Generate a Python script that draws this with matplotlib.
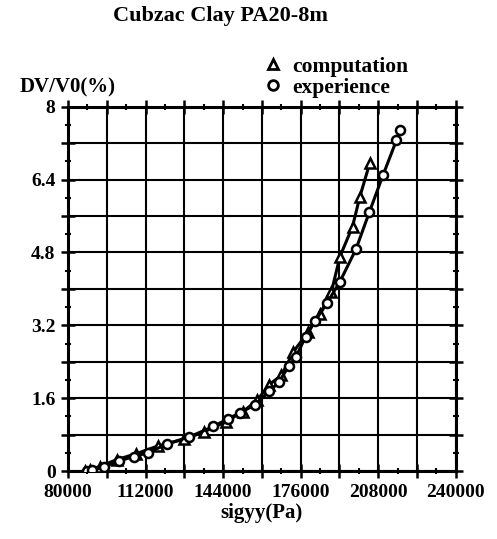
import numpy as np
import matplotlib.pyplot as plt
from matplotlib.lines import Line2D
from matplotlib.ticker import MultipleLocator, FuncFormatter

# values
comp_x = [87000, 89000, 93000, 100000, 108000, 117000, 128000, 136000, 145000,
          152000, 158000, 163000, 168000, 173000, 179000, 184000, 188700,
          192200, 197400, 200400, 204500]
comp_y = [0.0, 0.03, 0.10, 0.25, 0.38, 0.55, 0.70, 0.86, 1.08, 1.30, 1.55,
          1.90, 2.10, 2.62, 3.05, 3.45, 3.94, 4.71, 5.37, 6.02, 6.76]

exp_x = [88000, 90000, 95000, 101000, 107000, 113000, 121000, 130000, 140000,
         146000, 151000, 157000, 163000, 167000, 171000, 174000, 178000,
         182000, 187000, 192200, 198800, 204300, 210000, 215500, 216900]
exp_y = [0.0, 0.02, 0.10, 0.22, 0.32, 0.40, 0.60, 0.75, 0.98, 1.15, 1.28,
         1.45, 1.75, 1.95, 2.30, 2.50, 2.95, 3.30, 3.70, 4.16, 4.87, 5.68,
         6.50, 7.26, 7.48]

x_labels = [80000, 112000, 144000, 176000, 208000, 240000]
y_labels = [0, 1.6, 3.2, 4.8, 6.4, 8]

plt.rcParams['font.family'] = ['Liberation Serif', 'DejaVu Serif']
plt.rcParams['font.weight'] = 'bold'

fig = plt.figure(figsize=(4.97, 5.39), dpi=100)
ax = fig.add_axes([0.137, 0.126, 0.780, 0.676])

ax.plot(comp_x, comp_y, color='black', lw=2.2, marker='^', ms=6.5,
        mfc='white', mec='black', mew=1.8, zorder=3)
ax.plot(exp_x, exp_y, color='black', lw=2.2, marker='o', ms=6.5,
        mfc='white', mec='black', mew=1.8, zorder=3)

ax.set_xlim(80000, 240000)
ax.set_ylim(0, 8)

ax.xaxis.set_major_locator(MultipleLocator(16000))
ax.xaxis.set_minor_locator(MultipleLocator(8000))
ax.yaxis.set_major_locator(MultipleLocator(0.8))
ax.yaxis.set_minor_locator(MultipleLocator(0.4))

def xfmt(v, pos):
    for lab in x_labels:
        if abs(v - lab) < 1:
            return '%d' % lab
    return ''

def yfmt(v, pos):
    for lab in y_labels:
        if abs(v - lab) < 1e-6:
            return '%g' % lab
    return ''

ax.xaxis.set_major_formatter(FuncFormatter(xfmt))
ax.yaxis.set_major_formatter(FuncFormatter(yfmt))

ax.grid(True, which='major', color='black', lw=1.5)
ax.set_axisbelow(True)
for s in ax.spines.values():
    s.set_linewidth(2.2)

ax.tick_params(which='major', direction='inout', length=10, width=1.8,
               labelsize=14, top=True, right=True, pad=4)
ax.tick_params(which='minor', direction='inout', length=5, width=1.5,
               top=True, right=True)

ax.set_xlabel('sigyy(Pa)', fontsize=15, fontweight='bold', labelpad=2)

fig.text(0.443, 0.970, 'Cubzac Clay PA20-8m', ha='center', va='center',
         fontsize=16, fontweight='bold')
fig.text(0.04, 0.838, 'DV/V0(%)', ha='left', va='center',
         fontsize=15, fontweight='bold')

handles = [Line2D([], [], ls='none', marker='^', ms=7, mfc='white', mec='black', mew=2),
           Line2D([], [], ls='none', marker='o', ms=7, mfc='white', mec='black', mew=2)]
fig.legend(handles, ['computation', 'experience'], loc='center left',
           bbox_to_anchor=(0.51, 0.857), frameon=False, fontsize=15.5,
           handlelength=0.8, handletextpad=0.5, labelspacing=0.05,
           borderpad=0)

fig.savefig('out.png', dpi=100)
